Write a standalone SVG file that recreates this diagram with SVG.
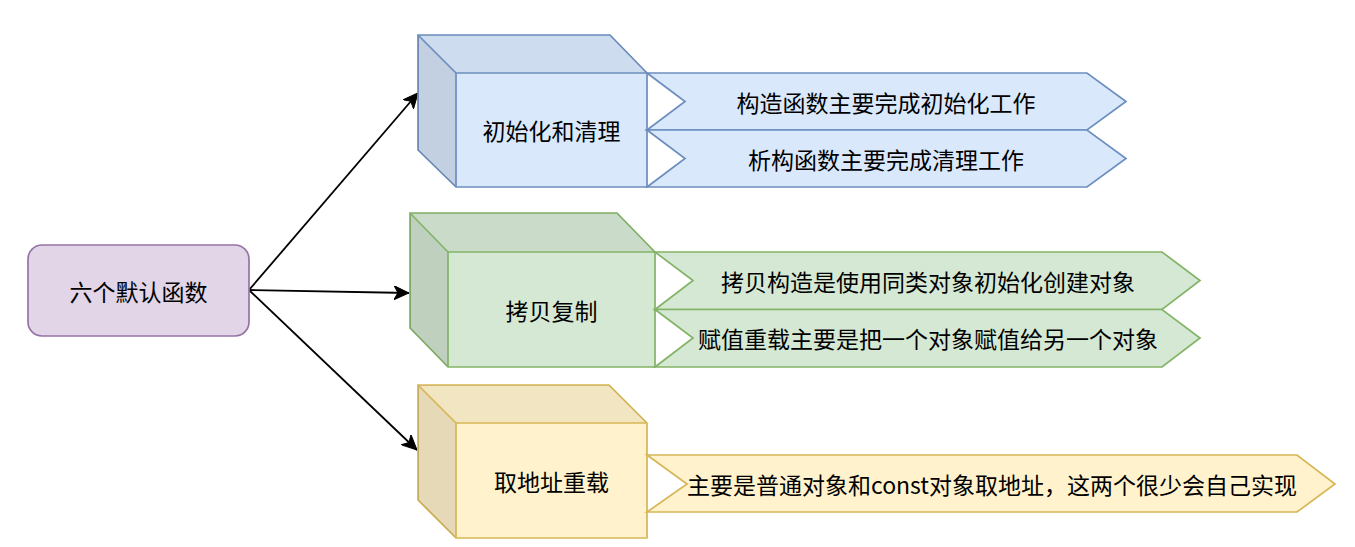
<svg xmlns="http://www.w3.org/2000/svg" width="1355" height="547" viewBox="0 0 1355 547">
<style>
text{font-family:"Noto Sans CJK SC","Noto Sans",sans-serif;font-size:23px;fill:#000;text-anchor:middle;dominant-baseline:central}
.sh{stroke-width:1.7;stroke-linejoin:miter}
.blue{fill:#dae8fc;stroke:#6c8ebf}
.green{fill:#d5e8d4;stroke:#82b366}
.yellow{fill:#fff2cc;stroke:#d6b656}
.top{fill:#000;fill-opacity:0.05;stroke:none}
.side{fill:#000;fill-opacity:0.1;stroke:none}
.edge{fill:none;stroke:#000;stroke-width:1.8}
</style>
<defs>
<marker id="ah" markerUnits="userSpaceOnUse" markerWidth="16" markerHeight="14" refX="15" refY="7" orient="auto" viewBox="0 0 16 14">
<path d="M0,0 L15,7 L0,14 L4,7 Z" fill="#000" stroke="#000" stroke-width="1"/>
</marker>
</defs>
<rect width="1355" height="547" fill="#fff"/>
<g id="connectors">
<path class="edge" d="M249,290 L418,93" marker-end="url(#ah)"/>
<path class="edge" d="M249,290 L409,293" marker-end="url(#ah)"/>
<path class="edge" d="M249,290 L417,450" marker-end="url(#ah)"/>
</g>
<g id="root">
<rect x="28" y="245" width="221" height="91" rx="14" fill="#e1d5e7" stroke="#9673a6" stroke-width="1.7"/>
<text x="138.5" y="290.5">六个默认函数</text>
</g>
<g id="cube-init">
<path class="sh blue" d="M418,35 L610,35 L647,73 L647,187 L456,187 L418,150 Z"/>
<path class="top" d="M418,35 L610,35 L647,73 L456,73 Z"/>
<path class="side" d="M418,35 L456,73 L456,187 L418,150 Z"/>
<path class="sh blue" style="fill:none" d="M418,35 L456,73 L647,73 M456,73 L456,187"/>
<text x="551.5" y="130">初始化和清理</text>
</g>
<g id="init-ctor">
<path class="sh blue" d="M647,73 L1087,73 L1126,101.5 L1087,130 L647,130 L685,101.5 Z"/>
<text x="886" y="101.5">构造函数主要完成初始化工作</text>
</g>
<g id="init-dtor">
<path class="sh blue" d="M647,130 L1087,130 L1126,158.5 L1087,187 L647,187 L685,158.5 Z"/>
<text x="886" y="158.5">析构函数主要完成清理工作</text>
</g>
<g id="cube-copy">
<path class="sh green" d="M410,213 L617,213 L655,252 L655,367 L448,367 L410,328 Z"/>
<path class="top" d="M410,213 L617,213 L655,252 L448,252 Z"/>
<path class="side" d="M410,213 L448,252 L448,367 L410,328 Z"/>
<path class="sh green" style="fill:none" d="M410,213 L448,252 L655,252 M448,252 L448,367"/>
<text x="551.5" y="309.5">拷贝复制</text>
</g>
<g id="copy-ctor">
<path class="sh green" d="M655,252 L1162,252 L1200,280.5 L1162,309.5 L655,309.5 L693,280.5 Z"/>
<text x="928" y="280.5">拷贝构造是使用同类对象初始化创建对象</text>
</g>
<g id="copy-assign">
<path class="sh green" d="M655,309.5 L1162,309.5 L1200,338 L1162,367 L655,367 L693,338 Z"/>
<text x="928" y="338">赋值重载主要是把一个对象赋值给另一个对象</text>
</g>
<g id="cube-addr">
<path class="sh yellow" d="M418,385 L609,385 L647,423 L647,538 L456,538 L418,500 Z"/>
<path class="top" d="M418,385 L609,385 L647,423 L456,423 Z"/>
<path class="side" d="M418,385 L456,423 L456,538 L418,500 Z"/>
<path class="sh yellow" style="fill:none" d="M418,385 L456,423 L647,423 M456,423 L456,538"/>
<text x="551.5" y="480.5">取地址重载</text>
</g>
<g id="addr-desc">
<path class="sh yellow" d="M647,455 L1297,455 L1335,484 L1297,512 L647,512 L687,484 Z"/>
<text x="992" y="484">主要是普通对象和const对象取地址，这两个很少会自己实现</text>
</g>
</svg>
